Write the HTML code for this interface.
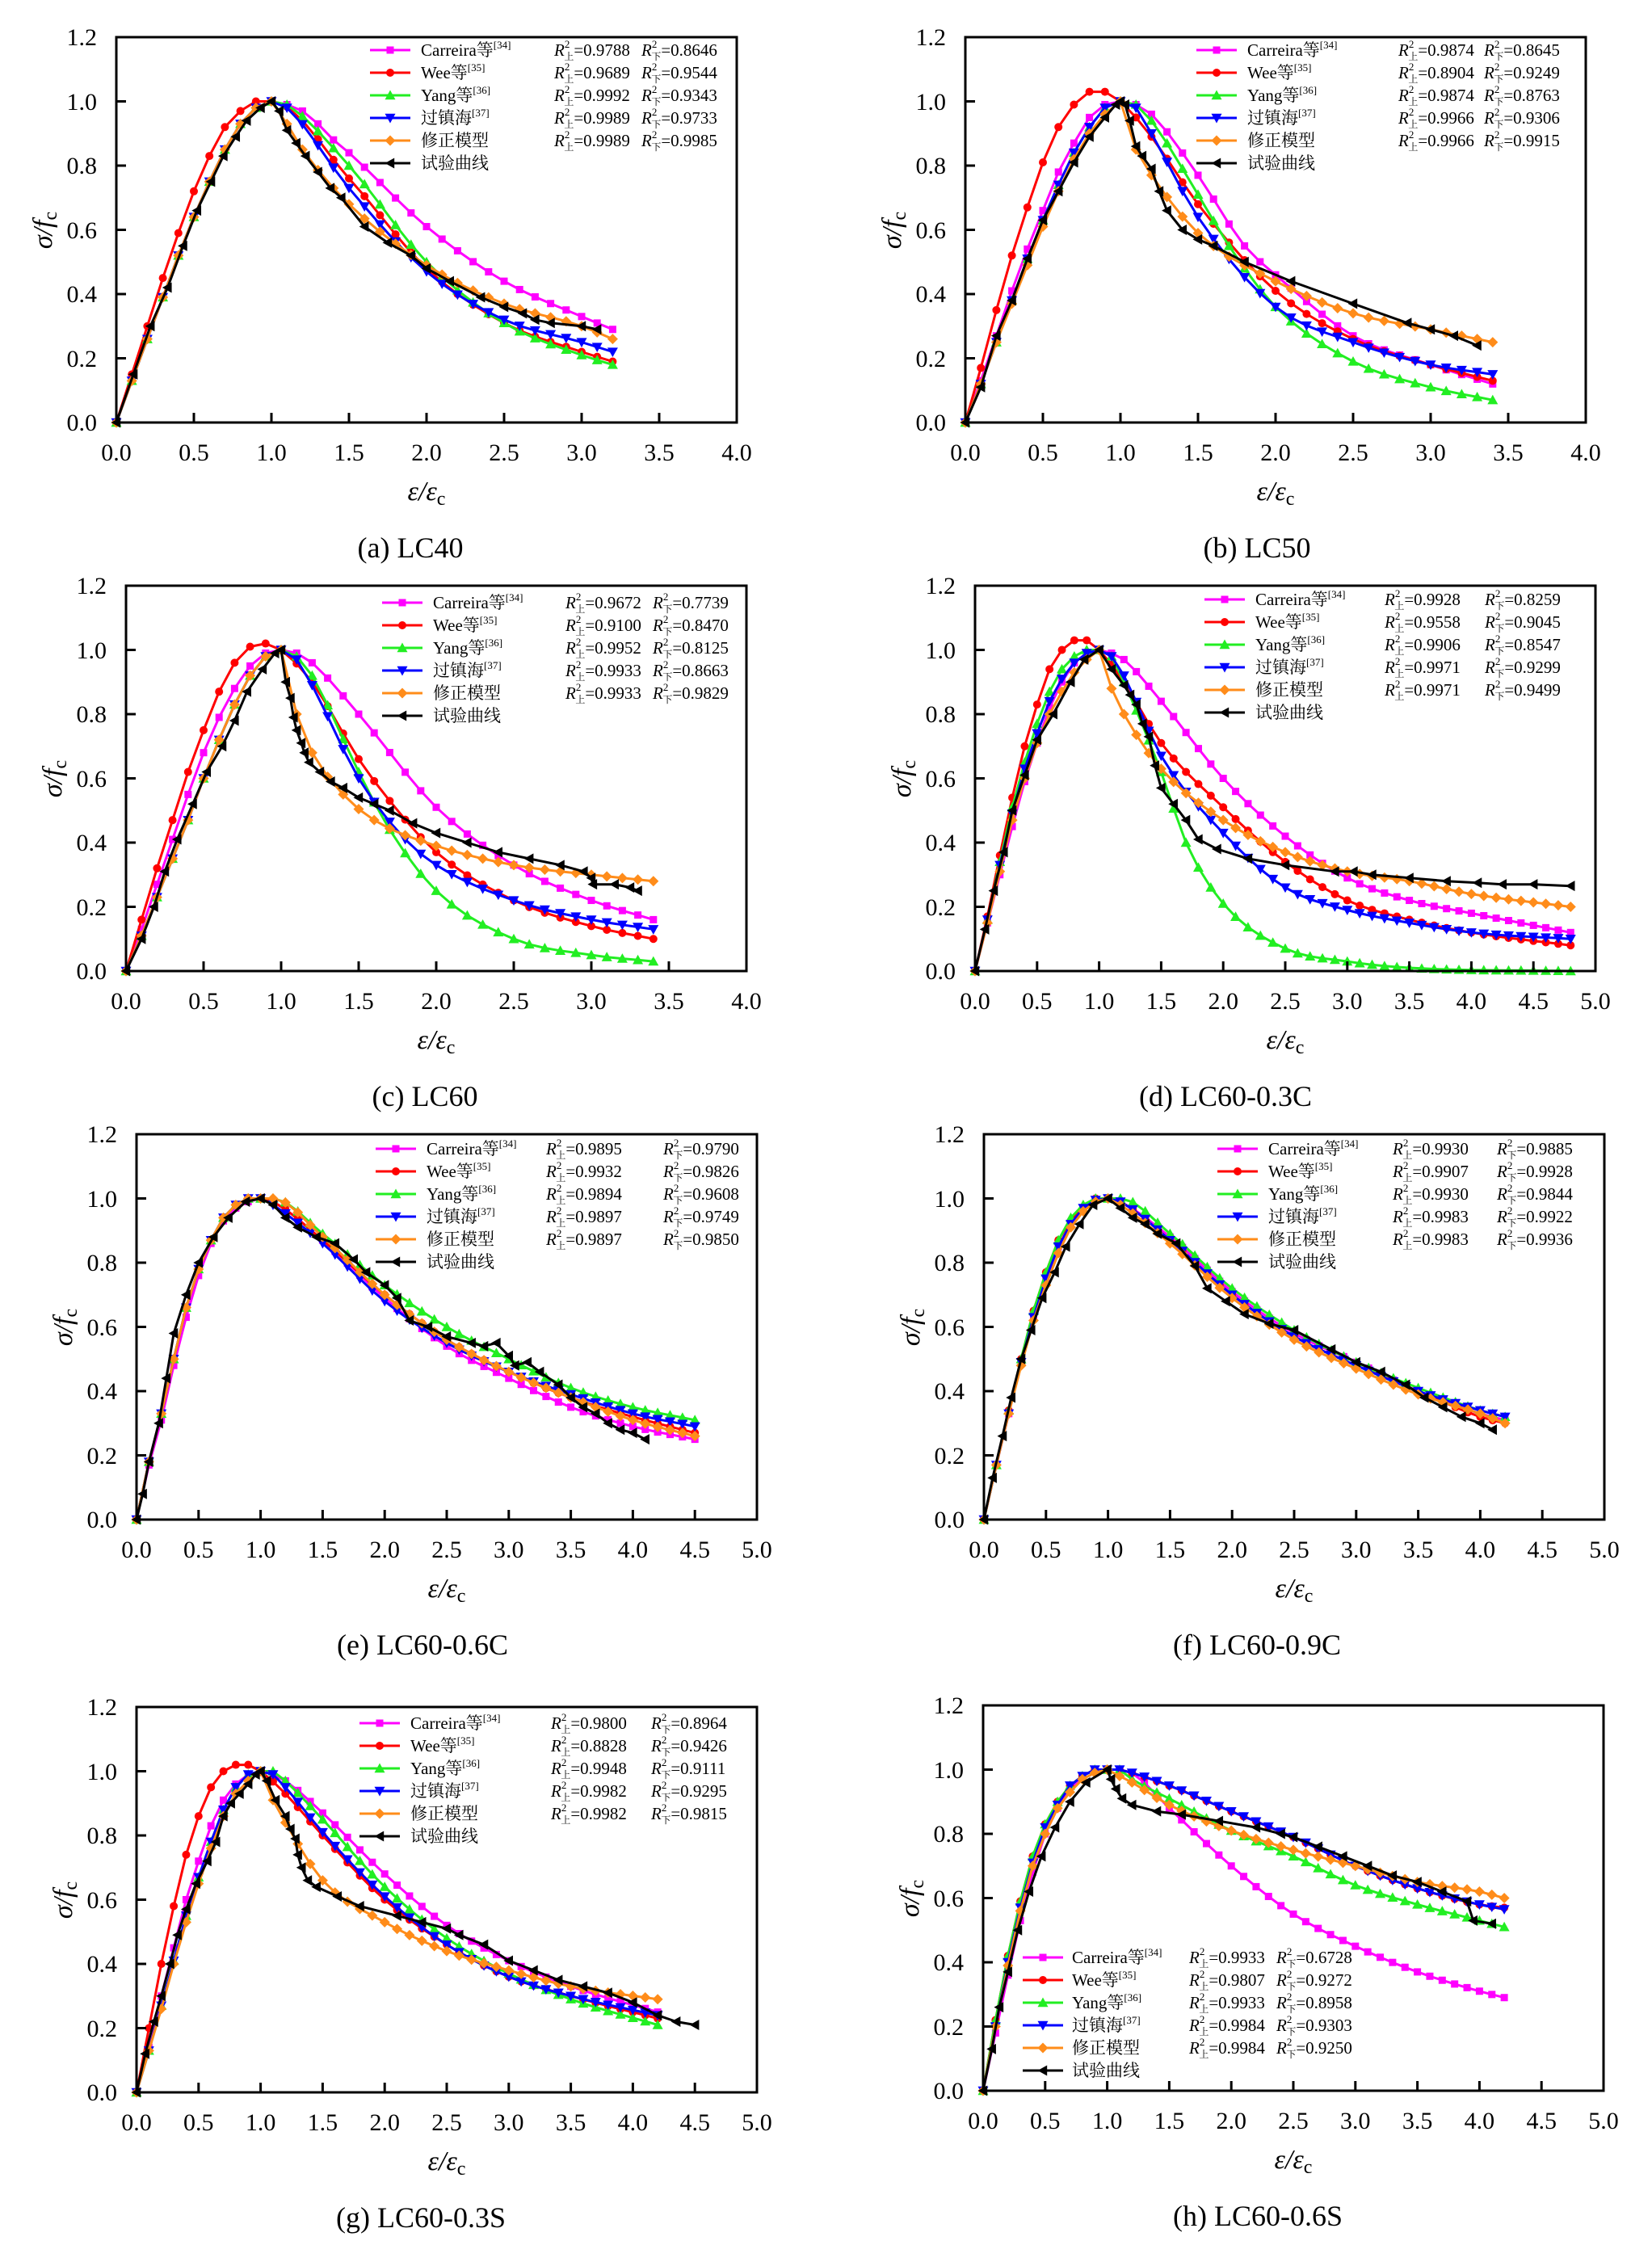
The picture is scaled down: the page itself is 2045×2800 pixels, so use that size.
<!DOCTYPE html>
<html><head><meta charset="utf-8">
<style>
html,body{margin:0;padding:0;background:#fff;}
svg{display:block;font-family:"Liberation Serif","Noto Serif CJK SC",serif;}
.t{font-size:30px;}
.lg{font-size:21px;}
.cap{font-size:36px;}
.ax{font-size:34px;font-style:italic;}
</style></head>
<body>
<svg id="s" width="2045" height="2800" viewBox="0 0 2045 2800" xmlns="http://www.w3.org/2000/svg">
<rect width="2045" height="2800" fill="#fff"/>
<g id="curves"></g>

<!-- panel a -->
<g transform="translate(144,523)">
<g class="t" text-anchor="end"><text x="-24" y="10">0.0</text><text x="-24" y="-69">0.2</text><text x="-24" y="-149">0.4</text><text x="-24" y="-228">0.6</text><text x="-24" y="-308">0.8</text><text x="-24" y="-387">1.0</text><text x="-24" y="-467">1.2</text></g>
<g class="t" text-anchor="middle"><text x="0" y="47">0.0</text><text x="96" y="47">0.5</text><text x="192" y="47">1.0</text><text x="288" y="47">1.5</text><text x="384" y="47">2.0</text><text x="480" y="47">2.5</text><text x="576" y="47">3.0</text><text x="672" y="47">3.5</text><text x="768" y="47">4.0</text></g>
<text class="ax" x="384" y="96" text-anchor="middle">ε/ε<tspan font-style="normal" font-size="24" dy="6">c</tspan></text>
<text class="ax" transform="translate(-80,-238) rotate(-90)" text-anchor="middle">σ/f<tspan font-style="normal" font-size="24" dy="6">c</tspan></text>
<text class="cap" x="364" y="167" text-anchor="middle">(a) LC40</text>
<g class="lg"><text x="377" y="-454">Carreira等<tspan font-size="13" dy="-9">[34]</tspan></text><text x="377" y="-426">Wee等<tspan font-size="13" dy="-9">[35]</tspan></text><text x="377" y="-398">Yang等<tspan font-size="13" dy="-9">[36]</tspan></text><text x="377" y="-370">过镇海<tspan font-size="13" dy="-9">[37]</tspan></text><text x="377" y="-342">修正模型</text><text x="377" y="-314">试验曲线</text>
<text x="542" y="-454"><tspan font-style="italic">R</tspan><tspan font-size="13" dy="-10">2</tspan><tspan font-size="12" dx="-7" dy="15">上</tspan><tspan dy="-5">=0.9788</tspan></text><text x="650" y="-454"><tspan font-style="italic">R</tspan><tspan font-size="13" dy="-10">2</tspan><tspan font-size="12" dx="-7" dy="15">下</tspan><tspan dy="-5">=0.8646</tspan></text>
<text x="542" y="-426"><tspan font-style="italic">R</tspan><tspan font-size="13" dy="-10">2</tspan><tspan font-size="12" dx="-7" dy="15">上</tspan><tspan dy="-5">=0.9689</tspan></text><text x="650" y="-426"><tspan font-style="italic">R</tspan><tspan font-size="13" dy="-10">2</tspan><tspan font-size="12" dx="-7" dy="15">下</tspan><tspan dy="-5">=0.9544</tspan></text>
<text x="542" y="-398"><tspan font-style="italic">R</tspan><tspan font-size="13" dy="-10">2</tspan><tspan font-size="12" dx="-7" dy="15">上</tspan><tspan dy="-5">=0.9992</tspan></text><text x="650" y="-398"><tspan font-style="italic">R</tspan><tspan font-size="13" dy="-10">2</tspan><tspan font-size="12" dx="-7" dy="15">下</tspan><tspan dy="-5">=0.9343</tspan></text>
<text x="542" y="-370"><tspan font-style="italic">R</tspan><tspan font-size="13" dy="-10">2</tspan><tspan font-size="12" dx="-7" dy="15">上</tspan><tspan dy="-5">=0.9989</tspan></text><text x="650" y="-370"><tspan font-style="italic">R</tspan><tspan font-size="13" dy="-10">2</tspan><tspan font-size="12" dx="-7" dy="15">下</tspan><tspan dy="-5">=0.9733</tspan></text>
<text x="542" y="-342"><tspan font-style="italic">R</tspan><tspan font-size="13" dy="-10">2</tspan><tspan font-size="12" dx="-7" dy="15">上</tspan><tspan dy="-5">=0.9989</tspan></text><text x="650" y="-342"><tspan font-style="italic">R</tspan><tspan font-size="13" dy="-10">2</tspan><tspan font-size="12" dx="-7" dy="15">下</tspan><tspan dy="-5">=0.9985</tspan></text></g>
</g>

<!-- panel b -->
<g transform="translate(1195,523)">
<g class="t" text-anchor="end"><text x="-24" y="10">0.0</text><text x="-24" y="-69">0.2</text><text x="-24" y="-149">0.4</text><text x="-24" y="-228">0.6</text><text x="-24" y="-308">0.8</text><text x="-24" y="-387">1.0</text><text x="-24" y="-467">1.2</text></g>
<g class="t" text-anchor="middle"><text x="0" y="47">0.0</text><text x="96" y="47">0.5</text><text x="192" y="47">1.0</text><text x="288" y="47">1.5</text><text x="384" y="47">2.0</text><text x="480" y="47">2.5</text><text x="576" y="47">3.0</text><text x="672" y="47">3.5</text><text x="768" y="47">4.0</text></g>
<text class="ax" x="384" y="96" text-anchor="middle">ε/ε<tspan font-style="normal" font-size="24" dy="6">c</tspan></text>
<text class="ax" transform="translate(-80,-238) rotate(-90)" text-anchor="middle">σ/f<tspan font-style="normal" font-size="24" dy="6">c</tspan></text>
<text class="cap" x="361" y="167" text-anchor="middle">(b) LC50</text>
<g class="lg"><text x="349" y="-454">Carreira等<tspan font-size="13" dy="-9">[34]</tspan></text><text x="349" y="-426">Wee等<tspan font-size="13" dy="-9">[35]</tspan></text><text x="349" y="-398">Yang等<tspan font-size="13" dy="-9">[36]</tspan></text><text x="349" y="-370">过镇海<tspan font-size="13" dy="-9">[37]</tspan></text><text x="349" y="-342">修正模型</text><text x="349" y="-314">试验曲线</text>
<text x="536" y="-454"><tspan font-style="italic">R</tspan><tspan font-size="13" dy="-10">2</tspan><tspan font-size="12" dx="-7" dy="15">上</tspan><tspan dy="-5">=0.9874</tspan></text><text x="642" y="-454"><tspan font-style="italic">R</tspan><tspan font-size="13" dy="-10">2</tspan><tspan font-size="12" dx="-7" dy="15">下</tspan><tspan dy="-5">=0.8645</tspan></text>
<text x="536" y="-426"><tspan font-style="italic">R</tspan><tspan font-size="13" dy="-10">2</tspan><tspan font-size="12" dx="-7" dy="15">上</tspan><tspan dy="-5">=0.8904</tspan></text><text x="642" y="-426"><tspan font-style="italic">R</tspan><tspan font-size="13" dy="-10">2</tspan><tspan font-size="12" dx="-7" dy="15">下</tspan><tspan dy="-5">=0.9249</tspan></text>
<text x="536" y="-398"><tspan font-style="italic">R</tspan><tspan font-size="13" dy="-10">2</tspan><tspan font-size="12" dx="-7" dy="15">上</tspan><tspan dy="-5">=0.9874</tspan></text><text x="642" y="-398"><tspan font-style="italic">R</tspan><tspan font-size="13" dy="-10">2</tspan><tspan font-size="12" dx="-7" dy="15">下</tspan><tspan dy="-5">=0.8763</tspan></text>
<text x="536" y="-370"><tspan font-style="italic">R</tspan><tspan font-size="13" dy="-10">2</tspan><tspan font-size="12" dx="-7" dy="15">上</tspan><tspan dy="-5">=0.9966</tspan></text><text x="642" y="-370"><tspan font-style="italic">R</tspan><tspan font-size="13" dy="-10">2</tspan><tspan font-size="12" dx="-7" dy="15">下</tspan><tspan dy="-5">=0.9306</tspan></text>
<text x="536" y="-342"><tspan font-style="italic">R</tspan><tspan font-size="13" dy="-10">2</tspan><tspan font-size="12" dx="-7" dy="15">上</tspan><tspan dy="-5">=0.9966</tspan></text><text x="642" y="-342"><tspan font-style="italic">R</tspan><tspan font-size="13" dy="-10">2</tspan><tspan font-size="12" dx="-7" dy="15">下</tspan><tspan dy="-5">=0.9915</tspan></text></g>
</g>

<!-- panel c -->
<g transform="translate(156,1202)">
<g class="t" text-anchor="end"><text x="-24" y="10">0.0</text><text x="-24" y="-69">0.2</text><text x="-24" y="-149">0.4</text><text x="-24" y="-228">0.6</text><text x="-24" y="-308">0.8</text><text x="-24" y="-387">1.0</text><text x="-24" y="-467">1.2</text></g>
<g class="t" text-anchor="middle"><text x="0" y="47">0.0</text><text x="96" y="47">0.5</text><text x="192" y="47">1.0</text><text x="288" y="47">1.5</text><text x="384" y="47">2.0</text><text x="480" y="47">2.5</text><text x="576" y="47">3.0</text><text x="672" y="47">3.5</text><text x="768" y="47">4.0</text></g>
<text class="ax" x="384" y="96" text-anchor="middle">ε/ε<tspan font-style="normal" font-size="24" dy="6">c</tspan></text>
<text class="ax" transform="translate(-80,-238) rotate(-90)" text-anchor="middle">σ/f<tspan font-style="normal" font-size="24" dy="6">c</tspan></text>
<text class="cap" x="370" y="167" text-anchor="middle">(c) LC60</text>
<g class="lg"><text x="380" y="-449">Carreira等<tspan font-size="13" dy="-9">[34]</tspan></text><text x="380" y="-421">Wee等<tspan font-size="13" dy="-9">[35]</tspan></text><text x="380" y="-393">Yang等<tspan font-size="13" dy="-9">[36]</tspan></text><text x="380" y="-365">过镇海<tspan font-size="13" dy="-9">[37]</tspan></text><text x="380" y="-337">修正模型</text><text x="380" y="-309">试验曲线</text>
<text x="544" y="-449"><tspan font-style="italic">R</tspan><tspan font-size="13" dy="-10">2</tspan><tspan font-size="12" dx="-7" dy="15">上</tspan><tspan dy="-5">=0.9672</tspan></text><text x="652" y="-449"><tspan font-style="italic">R</tspan><tspan font-size="13" dy="-10">2</tspan><tspan font-size="12" dx="-7" dy="15">下</tspan><tspan dy="-5">=0.7739</tspan></text>
<text x="544" y="-421"><tspan font-style="italic">R</tspan><tspan font-size="13" dy="-10">2</tspan><tspan font-size="12" dx="-7" dy="15">上</tspan><tspan dy="-5">=0.9100</tspan></text><text x="652" y="-421"><tspan font-style="italic">R</tspan><tspan font-size="13" dy="-10">2</tspan><tspan font-size="12" dx="-7" dy="15">下</tspan><tspan dy="-5">=0.8470</tspan></text>
<text x="544" y="-393"><tspan font-style="italic">R</tspan><tspan font-size="13" dy="-10">2</tspan><tspan font-size="12" dx="-7" dy="15">上</tspan><tspan dy="-5">=0.9952</tspan></text><text x="652" y="-393"><tspan font-style="italic">R</tspan><tspan font-size="13" dy="-10">2</tspan><tspan font-size="12" dx="-7" dy="15">下</tspan><tspan dy="-5">=0.8125</tspan></text>
<text x="544" y="-365"><tspan font-style="italic">R</tspan><tspan font-size="13" dy="-10">2</tspan><tspan font-size="12" dx="-7" dy="15">上</tspan><tspan dy="-5">=0.9933</tspan></text><text x="652" y="-365"><tspan font-style="italic">R</tspan><tspan font-size="13" dy="-10">2</tspan><tspan font-size="12" dx="-7" dy="15">下</tspan><tspan dy="-5">=0.8663</tspan></text>
<text x="544" y="-337"><tspan font-style="italic">R</tspan><tspan font-size="13" dy="-10">2</tspan><tspan font-size="12" dx="-7" dy="15">上</tspan><tspan dy="-5">=0.9933</tspan></text><text x="652" y="-337"><tspan font-style="italic">R</tspan><tspan font-size="13" dy="-10">2</tspan><tspan font-size="12" dx="-7" dy="15">下</tspan><tspan dy="-5">=0.9829</tspan></text></g>
</g>

<!-- panel d -->
<g transform="translate(1207,1202)">
<g class="t" text-anchor="end"><text x="-24" y="10">0.0</text><text x="-24" y="-69">0.2</text><text x="-24" y="-149">0.4</text><text x="-24" y="-228">0.6</text><text x="-24" y="-308">0.8</text><text x="-24" y="-387">1.0</text><text x="-24" y="-467">1.2</text></g>
<g class="t" text-anchor="middle"><text x="0" y="47">0.0</text><text x="76.8" y="47">0.5</text><text x="153.6" y="47">1.0</text><text x="230.4" y="47">1.5</text><text x="307.2" y="47">2.0</text><text x="384" y="47">2.5</text><text x="460.8" y="47">3.0</text><text x="537.6" y="47">3.5</text><text x="614.4" y="47">4.0</text><text x="691.2" y="47">4.5</text><text x="768" y="47">5.0</text></g>
<text class="ax" x="384" y="96" text-anchor="middle">ε/ε<tspan font-style="normal" font-size="24" dy="6">c</tspan></text>
<text class="ax" transform="translate(-80,-238) rotate(-90)" text-anchor="middle">σ/f<tspan font-style="normal" font-size="24" dy="6">c</tspan></text>
<text class="cap" x="310" y="167" text-anchor="middle">(d) LC60-0.3C</text>
<g class="lg"><text x="347" y="-453">Carreira等<tspan font-size="13" dy="-9">[34]</tspan></text><text x="347" y="-425">Wee等<tspan font-size="13" dy="-9">[35]</tspan></text><text x="347" y="-397">Yang等<tspan font-size="13" dy="-9">[36]</tspan></text><text x="347" y="-369">过镇海<tspan font-size="13" dy="-9">[37]</tspan></text><text x="347" y="-341">修正模型</text><text x="347" y="-313">试验曲线</text>
<text x="507" y="-453"><tspan font-style="italic">R</tspan><tspan font-size="13" dy="-10">2</tspan><tspan font-size="12" dx="-7" dy="15">上</tspan><tspan dy="-5">=0.9928</tspan></text><text x="631" y="-453"><tspan font-style="italic">R</tspan><tspan font-size="13" dy="-10">2</tspan><tspan font-size="12" dx="-7" dy="15">下</tspan><tspan dy="-5">=0.8259</tspan></text>
<text x="507" y="-425"><tspan font-style="italic">R</tspan><tspan font-size="13" dy="-10">2</tspan><tspan font-size="12" dx="-7" dy="15">上</tspan><tspan dy="-5">=0.9558</tspan></text><text x="631" y="-425"><tspan font-style="italic">R</tspan><tspan font-size="13" dy="-10">2</tspan><tspan font-size="12" dx="-7" dy="15">下</tspan><tspan dy="-5">=0.9045</tspan></text>
<text x="507" y="-397"><tspan font-style="italic">R</tspan><tspan font-size="13" dy="-10">2</tspan><tspan font-size="12" dx="-7" dy="15">上</tspan><tspan dy="-5">=0.9906</tspan></text><text x="631" y="-397"><tspan font-style="italic">R</tspan><tspan font-size="13" dy="-10">2</tspan><tspan font-size="12" dx="-7" dy="15">下</tspan><tspan dy="-5">=0.8547</tspan></text>
<text x="507" y="-369"><tspan font-style="italic">R</tspan><tspan font-size="13" dy="-10">2</tspan><tspan font-size="12" dx="-7" dy="15">上</tspan><tspan dy="-5">=0.9971</tspan></text><text x="631" y="-369"><tspan font-style="italic">R</tspan><tspan font-size="13" dy="-10">2</tspan><tspan font-size="12" dx="-7" dy="15">下</tspan><tspan dy="-5">=0.9299</tspan></text>
<text x="507" y="-341"><tspan font-style="italic">R</tspan><tspan font-size="13" dy="-10">2</tspan><tspan font-size="12" dx="-7" dy="15">上</tspan><tspan dy="-5">=0.9971</tspan></text><text x="631" y="-341"><tspan font-style="italic">R</tspan><tspan font-size="13" dy="-10">2</tspan><tspan font-size="12" dx="-7" dy="15">下</tspan><tspan dy="-5">=0.9499</tspan></text></g>
</g>

<!-- panel e -->
<g transform="translate(169,1881)">
<g class="t" text-anchor="end"><text x="-24" y="10">0.0</text><text x="-24" y="-69">0.2</text><text x="-24" y="-149">0.4</text><text x="-24" y="-228">0.6</text><text x="-24" y="-308">0.8</text><text x="-24" y="-387">1.0</text><text x="-24" y="-467">1.2</text></g>
<g class="t" text-anchor="middle"><text x="0" y="47">0.0</text><text x="76.8" y="47">0.5</text><text x="153.6" y="47">1.0</text><text x="230.4" y="47">1.5</text><text x="307.2" y="47">2.0</text><text x="384" y="47">2.5</text><text x="460.8" y="47">3.0</text><text x="537.6" y="47">3.5</text><text x="614.4" y="47">4.0</text><text x="691.2" y="47">4.5</text><text x="768" y="47">5.0</text></g>
<text class="ax" x="384" y="96" text-anchor="middle">ε/ε<tspan font-style="normal" font-size="24" dy="6">c</tspan></text>
<text class="ax" transform="translate(-80,-238) rotate(-90)" text-anchor="middle">σ/f<tspan font-style="normal" font-size="24" dy="6">c</tspan></text>
<text class="cap" x="354" y="167" text-anchor="middle">(e) LC60-0.6C</text>
<g class="lg"><text x="359" y="-452">Carreira等<tspan font-size="13" dy="-9">[34]</tspan></text><text x="359" y="-424">Wee等<tspan font-size="13" dy="-9">[35]</tspan></text><text x="359" y="-396">Yang等<tspan font-size="13" dy="-9">[36]</tspan></text><text x="359" y="-368">过镇海<tspan font-size="13" dy="-9">[37]</tspan></text><text x="359" y="-340">修正模型</text><text x="359" y="-312">试验曲线</text>
<text x="507" y="-452"><tspan font-style="italic">R</tspan><tspan font-size="13" dy="-10">2</tspan><tspan font-size="12" dx="-7" dy="15">上</tspan><tspan dy="-5">=0.9895</tspan></text><text x="652" y="-452"><tspan font-style="italic">R</tspan><tspan font-size="13" dy="-10">2</tspan><tspan font-size="12" dx="-7" dy="15">下</tspan><tspan dy="-5">=0.9790</tspan></text>
<text x="507" y="-424"><tspan font-style="italic">R</tspan><tspan font-size="13" dy="-10">2</tspan><tspan font-size="12" dx="-7" dy="15">上</tspan><tspan dy="-5">=0.9932</tspan></text><text x="652" y="-424"><tspan font-style="italic">R</tspan><tspan font-size="13" dy="-10">2</tspan><tspan font-size="12" dx="-7" dy="15">下</tspan><tspan dy="-5">=0.9826</tspan></text>
<text x="507" y="-396"><tspan font-style="italic">R</tspan><tspan font-size="13" dy="-10">2</tspan><tspan font-size="12" dx="-7" dy="15">上</tspan><tspan dy="-5">=0.9894</tspan></text><text x="652" y="-396"><tspan font-style="italic">R</tspan><tspan font-size="13" dy="-10">2</tspan><tspan font-size="12" dx="-7" dy="15">下</tspan><tspan dy="-5">=0.9608</tspan></text>
<text x="507" y="-368"><tspan font-style="italic">R</tspan><tspan font-size="13" dy="-10">2</tspan><tspan font-size="12" dx="-7" dy="15">上</tspan><tspan dy="-5">=0.9897</tspan></text><text x="652" y="-368"><tspan font-style="italic">R</tspan><tspan font-size="13" dy="-10">2</tspan><tspan font-size="12" dx="-7" dy="15">下</tspan><tspan dy="-5">=0.9749</tspan></text>
<text x="507" y="-340"><tspan font-style="italic">R</tspan><tspan font-size="13" dy="-10">2</tspan><tspan font-size="12" dx="-7" dy="15">上</tspan><tspan dy="-5">=0.9897</tspan></text><text x="652" y="-340"><tspan font-style="italic">R</tspan><tspan font-size="13" dy="-10">2</tspan><tspan font-size="12" dx="-7" dy="15">下</tspan><tspan dy="-5">=0.9850</tspan></text></g>
</g>

<!-- panel f -->
<g transform="translate(1218,1881)">
<g class="t" text-anchor="end"><text x="-24" y="10">0.0</text><text x="-24" y="-69">0.2</text><text x="-24" y="-149">0.4</text><text x="-24" y="-228">0.6</text><text x="-24" y="-308">0.8</text><text x="-24" y="-387">1.0</text><text x="-24" y="-467">1.2</text></g>
<g class="t" text-anchor="middle"><text x="0" y="47">0.0</text><text x="76.8" y="47">0.5</text><text x="153.6" y="47">1.0</text><text x="230.4" y="47">1.5</text><text x="307.2" y="47">2.0</text><text x="384" y="47">2.5</text><text x="460.8" y="47">3.0</text><text x="537.6" y="47">3.5</text><text x="614.4" y="47">4.0</text><text x="691.2" y="47">4.5</text><text x="768" y="47">5.0</text></g>
<text class="ax" x="384" y="96" text-anchor="middle">ε/ε<tspan font-style="normal" font-size="24" dy="6">c</tspan></text>
<text class="ax" transform="translate(-80,-238) rotate(-90)" text-anchor="middle">σ/f<tspan font-style="normal" font-size="24" dy="6">c</tspan></text>
<text class="cap" x="338" y="167" text-anchor="middle">(f) LC60-0.9C</text>
<g class="lg"><text x="352" y="-452">Carreira等<tspan font-size="13" dy="-9">[34]</tspan></text><text x="352" y="-424">Wee等<tspan font-size="13" dy="-9">[35]</tspan></text><text x="352" y="-396">Yang等<tspan font-size="13" dy="-9">[36]</tspan></text><text x="352" y="-368">过镇海<tspan font-size="13" dy="-9">[37]</tspan></text><text x="352" y="-340">修正模型</text><text x="352" y="-312">试验曲线</text>
<text x="506" y="-452"><tspan font-style="italic">R</tspan><tspan font-size="13" dy="-10">2</tspan><tspan font-size="12" dx="-7" dy="15">上</tspan><tspan dy="-5">=0.9930</tspan></text><text x="635" y="-452"><tspan font-style="italic">R</tspan><tspan font-size="13" dy="-10">2</tspan><tspan font-size="12" dx="-7" dy="15">下</tspan><tspan dy="-5">=0.9885</tspan></text>
<text x="506" y="-424"><tspan font-style="italic">R</tspan><tspan font-size="13" dy="-10">2</tspan><tspan font-size="12" dx="-7" dy="15">上</tspan><tspan dy="-5">=0.9907</tspan></text><text x="635" y="-424"><tspan font-style="italic">R</tspan><tspan font-size="13" dy="-10">2</tspan><tspan font-size="12" dx="-7" dy="15">下</tspan><tspan dy="-5">=0.9928</tspan></text>
<text x="506" y="-396"><tspan font-style="italic">R</tspan><tspan font-size="13" dy="-10">2</tspan><tspan font-size="12" dx="-7" dy="15">上</tspan><tspan dy="-5">=0.9930</tspan></text><text x="635" y="-396"><tspan font-style="italic">R</tspan><tspan font-size="13" dy="-10">2</tspan><tspan font-size="12" dx="-7" dy="15">下</tspan><tspan dy="-5">=0.9844</tspan></text>
<text x="506" y="-368"><tspan font-style="italic">R</tspan><tspan font-size="13" dy="-10">2</tspan><tspan font-size="12" dx="-7" dy="15">上</tspan><tspan dy="-5">=0.9983</tspan></text><text x="635" y="-368"><tspan font-style="italic">R</tspan><tspan font-size="13" dy="-10">2</tspan><tspan font-size="12" dx="-7" dy="15">下</tspan><tspan dy="-5">=0.9922</tspan></text>
<text x="506" y="-340"><tspan font-style="italic">R</tspan><tspan font-size="13" dy="-10">2</tspan><tspan font-size="12" dx="-7" dy="15">上</tspan><tspan dy="-5">=0.9983</tspan></text><text x="635" y="-340"><tspan font-style="italic">R</tspan><tspan font-size="13" dy="-10">2</tspan><tspan font-size="12" dx="-7" dy="15">下</tspan><tspan dy="-5">=0.9936</tspan></text></g>
</g>

<!-- panel g -->
<g transform="translate(169,2590)">
<g class="t" text-anchor="end"><text x="-24" y="10">0.0</text><text x="-24" y="-69">0.2</text><text x="-24" y="-149">0.4</text><text x="-24" y="-228">0.6</text><text x="-24" y="-308">0.8</text><text x="-24" y="-387">1.0</text><text x="-24" y="-467">1.2</text></g>
<g class="t" text-anchor="middle"><text x="0" y="47">0.0</text><text x="76.8" y="47">0.5</text><text x="153.6" y="47">1.0</text><text x="230.4" y="47">1.5</text><text x="307.2" y="47">2.0</text><text x="384" y="47">2.5</text><text x="460.8" y="47">3.0</text><text x="537.6" y="47">3.5</text><text x="614.4" y="47">4.0</text><text x="691.2" y="47">4.5</text><text x="768" y="47">5.0</text></g>
<text class="ax" x="384" y="96" text-anchor="middle">ε/ε<tspan font-style="normal" font-size="24" dy="6">c</tspan></text>
<text class="ax" transform="translate(-80,-238) rotate(-90)" text-anchor="middle">σ/f<tspan font-style="normal" font-size="24" dy="6">c</tspan></text>
<text class="cap" x="352" y="167" text-anchor="middle">(g) LC60-0.3S</text>
<g class="lg"><text x="339" y="-450">Carreira等<tspan font-size="13" dy="-9">[34]</tspan></text><text x="339" y="-422">Wee等<tspan font-size="13" dy="-9">[35]</tspan></text><text x="339" y="-394">Yang等<tspan font-size="13" dy="-9">[36]</tspan></text><text x="339" y="-366">过镇海<tspan font-size="13" dy="-9">[37]</tspan></text><text x="339" y="-338">修正模型</text><text x="339" y="-310">试验曲线</text>
<text x="513" y="-450"><tspan font-style="italic">R</tspan><tspan font-size="13" dy="-10">2</tspan><tspan font-size="12" dx="-7" dy="15">上</tspan><tspan dy="-5">=0.9800</tspan></text><text x="637" y="-450"><tspan font-style="italic">R</tspan><tspan font-size="13" dy="-10">2</tspan><tspan font-size="12" dx="-7" dy="15">下</tspan><tspan dy="-5">=0.8964</tspan></text>
<text x="513" y="-422"><tspan font-style="italic">R</tspan><tspan font-size="13" dy="-10">2</tspan><tspan font-size="12" dx="-7" dy="15">上</tspan><tspan dy="-5">=0.8828</tspan></text><text x="637" y="-422"><tspan font-style="italic">R</tspan><tspan font-size="13" dy="-10">2</tspan><tspan font-size="12" dx="-7" dy="15">下</tspan><tspan dy="-5">=0.9426</tspan></text>
<text x="513" y="-394"><tspan font-style="italic">R</tspan><tspan font-size="13" dy="-10">2</tspan><tspan font-size="12" dx="-7" dy="15">上</tspan><tspan dy="-5">=0.9948</tspan></text><text x="637" y="-394"><tspan font-style="italic">R</tspan><tspan font-size="13" dy="-10">2</tspan><tspan font-size="12" dx="-7" dy="15">下</tspan><tspan dy="-5">=0.9111</tspan></text>
<text x="513" y="-366"><tspan font-style="italic">R</tspan><tspan font-size="13" dy="-10">2</tspan><tspan font-size="12" dx="-7" dy="15">上</tspan><tspan dy="-5">=0.9982</tspan></text><text x="637" y="-366"><tspan font-style="italic">R</tspan><tspan font-size="13" dy="-10">2</tspan><tspan font-size="12" dx="-7" dy="15">下</tspan><tspan dy="-5">=0.9295</tspan></text>
<text x="513" y="-338"><tspan font-style="italic">R</tspan><tspan font-size="13" dy="-10">2</tspan><tspan font-size="12" dx="-7" dy="15">上</tspan><tspan dy="-5">=0.9982</tspan></text><text x="637" y="-338"><tspan font-style="italic">R</tspan><tspan font-size="13" dy="-10">2</tspan><tspan font-size="12" dx="-7" dy="15">下</tspan><tspan dy="-5">=0.9815</tspan></text></g>
</g>

<!-- panel h -->
<g transform="translate(1217,2588)">
<g class="t" text-anchor="end"><text x="-24" y="10">0.0</text><text x="-24" y="-69">0.2</text><text x="-24" y="-149">0.4</text><text x="-24" y="-228">0.6</text><text x="-24" y="-308">0.8</text><text x="-24" y="-387">1.0</text><text x="-24" y="-467">1.2</text></g>
<g class="t" text-anchor="middle"><text x="0" y="47">0.0</text><text x="76.8" y="47">0.5</text><text x="153.6" y="47">1.0</text><text x="230.4" y="47">1.5</text><text x="307.2" y="47">2.0</text><text x="384" y="47">2.5</text><text x="460.8" y="47">3.0</text><text x="537.6" y="47">3.5</text><text x="614.4" y="47">4.0</text><text x="691.2" y="47">4.5</text><text x="768" y="47">5.0</text></g>
<text class="ax" x="384" y="96" text-anchor="middle">ε/ε<tspan font-style="normal" font-size="24" dy="6">c</tspan></text>
<text class="ax" transform="translate(-80,-238) rotate(-90)" text-anchor="middle">σ/f<tspan font-style="normal" font-size="24" dy="6">c</tspan></text>
<text class="cap" x="340" y="167" text-anchor="middle">(h) LC60-0.6S</text>
<g class="lg"><text x="110" y="-158">Carreira等<tspan font-size="13" dy="-9">[34]</tspan></text><text x="110" y="-130">Wee等<tspan font-size="13" dy="-9">[35]</tspan></text><text x="110" y="-102">Yang等<tspan font-size="13" dy="-9">[36]</tspan></text><text x="110" y="-74">过镇海<tspan font-size="13" dy="-9">[37]</tspan></text><text x="110" y="-46">修正模型</text><text x="110" y="-18">试验曲线</text>
<text x="255" y="-158"><tspan font-style="italic">R</tspan><tspan font-size="13" dy="-10">2</tspan><tspan font-size="12" dx="-7" dy="15">上</tspan><tspan dy="-5">=0.9933</tspan></text><text x="363" y="-158"><tspan font-style="italic">R</tspan><tspan font-size="13" dy="-10">2</tspan><tspan font-size="12" dx="-7" dy="15">下</tspan><tspan dy="-5">=0.6728</tspan></text>
<text x="255" y="-130"><tspan font-style="italic">R</tspan><tspan font-size="13" dy="-10">2</tspan><tspan font-size="12" dx="-7" dy="15">上</tspan><tspan dy="-5">=0.9807</tspan></text><text x="363" y="-130"><tspan font-style="italic">R</tspan><tspan font-size="13" dy="-10">2</tspan><tspan font-size="12" dx="-7" dy="15">下</tspan><tspan dy="-5">=0.9272</tspan></text>
<text x="255" y="-102"><tspan font-style="italic">R</tspan><tspan font-size="13" dy="-10">2</tspan><tspan font-size="12" dx="-7" dy="15">上</tspan><tspan dy="-5">=0.9933</tspan></text><text x="363" y="-102"><tspan font-style="italic">R</tspan><tspan font-size="13" dy="-10">2</tspan><tspan font-size="12" dx="-7" dy="15">下</tspan><tspan dy="-5">=0.8958</tspan></text>
<text x="255" y="-74"><tspan font-style="italic">R</tspan><tspan font-size="13" dy="-10">2</tspan><tspan font-size="12" dx="-7" dy="15">上</tspan><tspan dy="-5">=0.9984</tspan></text><text x="363" y="-74"><tspan font-style="italic">R</tspan><tspan font-size="13" dy="-10">2</tspan><tspan font-size="12" dx="-7" dy="15">下</tspan><tspan dy="-5">=0.9303</tspan></text>
<text x="255" y="-46"><tspan font-style="italic">R</tspan><tspan font-size="13" dy="-10">2</tspan><tspan font-size="12" dx="-7" dy="15">上</tspan><tspan dy="-5">=0.9984</tspan></text><text x="363" y="-46"><tspan font-style="italic">R</tspan><tspan font-size="13" dy="-10">2</tspan><tspan font-size="12" dx="-7" dy="15">下</tspan><tspan dy="-5">=0.9250</tspan></text></g>
</g>
</svg>
<script>
(function(){
var NS="http://www.w3.org/2000/svg",root=document.getElementById("curves");
var W=768,H=477;
var COL={m:"#ff00ff",r:"#ff0000",g:"#22ee22",b:"#0000ff",o:"#ff8c1a",k:"#000000"};
var MK={m:"sq",r:"ci",g:"tu",b:"td",o:"di",k:"tl"};
function el(n,a,p){var e=document.createElementNS(NS,n);for(var k in a)e.setAttribute(k,a[k]);p.appendChild(e);return e;}
function marker(t,x,y,c,p){
 if(t=="sq")el("rect",{x:x-4.5,y:y-4.5,width:9,height:9,fill:c},p);
 else if(t=="ci")el("circle",{cx:x,cy:y,r:5,fill:c},p);
 else{var s=6.5,pts;
  if(t=="tu")pts=[x,y-s,x+s,y+s*0.8,x-s,y+s*0.8];
  else if(t=="td")pts=[x,y+s,x+s,y-s*0.8,x-s,y-s*0.8];
  else if(t=="di")pts=[x,y-s,x+s,y,x,y+s,x-s,y];
  else pts=[x-s,y,x+s*0.8,y-s,x+s*0.8,y+s];
  el("polygon",{points:pts.join(","),fill:c},p);}
}
function mono(P,xs){ // monotone cubic interpolation
 var n=P.length,d=[],m=[];
 for(var i=0;i<n-1;i++)d.push((P[i+1][1]-P[i][1])/(P[i+1][0]-P[i][0]));
 m[0]=d[0];m[n-1]=d[n-2];
 for(i=1;i<n-1;i++){m[i]=(d[i-1]*d[i]<=0)?0:(d[i-1]+d[i])/2;}
 for(i=0;i<n-1;i++){if(d[i]==0){m[i]=0;m[i+1]=0;continue;}var a=m[i]/d[i],b=m[i+1]/d[i],h=a*a+b*b;if(h>9){var t=3/Math.sqrt(h);m[i]=t*a*d[i];m[i+1]=t*b*d[i];}}
 return xs.map(function(x){var j=0;while(j<n-2&&x>P[j+1][0])j++;
  var h=P[j+1][0]-P[j][0],t=(x-P[j][0])/h,t2=t*t,t3=t2*t;
  return [x,(2*t3-3*t2+1)*P[j][1]+(t3-2*t2+t)*h*m[j]+(-2*t3+3*t2)*P[j+1][1]+(t3-t2)*h*m[j+1]];});
}
function ascPts(a){var r=[];for(var i=0;i<a.length;i++)r.push([i/10,a[i]]);return r;}
var panels=[
{L:144,B:523,xm:4,lg:[314,-461],
 base:[0,.13,.26,.39,.52,.64,.75,.85,.93,.98,1],
 S:{m:[null,[[1.1,.99],[1.2,.97],[1.3,.93],[1.4,.88],[1.5,.84],[2,.61],[2.5,.44],[3,.33],[3.2,.29]]],
    r:[[0,.15,.30,.45,.59,.72,.83,.92,.97,1.0,1],[[1.5,.76],[2,.48],[2.5,.31],[3,.22],[3.2,.19]]],
    g:[null,[[1.1,.99],[1.5,.80],[2,.50],[2.5,.31],[3,.21],[3.2,.18]]],
    b:[null,[[1.1,.98],[1.5,.73],[2,.47],[2.5,.32],[3,.25],[3.2,.22]]],
    o:[null,[[1.1,.93],[1.2,.85],[1.5,.68],[2,.49],[2.5,.37],[3,.30],[3.2,.26]]]},
 K:[[0,0],[.11,.15],[.22,.30],[.33,.42],[.43,.55],[.52,.66],[.61,.75],[.69,.83],[.77,.89],[.84,.94],[.93,.98],[1,1],[1.05,.97],[1.1,.91],[1.16,.87],[1.22,.83],[1.3,.78],[1.38,.73],[1.45,.70],[1.6,.61],[1.75,.56],[1.9,.52],[2.0,.48],[2.15,.44],[2.35,.39],[2.5,.36],[2.62,.34],[2.7,.32],[2.8,.31],[3.0,.30],[3.1,.29]]},
{L:1195,B:523,xm:4,lg:[286,-461],
 base:[0,.12,.25,.38,.51,.63,.74,.84,.92,.98,1],
 S:{m:[[0,.13,.27,.41,.54,.66,.78,.87,.95,.99,1],[[1.1,.99],[1.2,.96],[1.5,.77],[1.8,.55],[2,.46],[2.5,.27],[3,.18],[3.4,.12]]],
    r:[[0,.17,.35,.52,.67,.81,.92,.99,1.03,1.03,1],[[1.2,.89],[1.5,.68],[2,.41],[2.5,.26],[3,.18],[3.4,.13]]],
    g:[null,[[1.1,.99],[1.2,.94],[1.5,.71],[1.7,.55],[2,.36],[2.5,.19],[3,.11],[3.4,.07]]],
    b:[null,[[1.1,.98],[1.2,.90],[1.5,.64],[2,.36],[2.5,.25],[3,.18],[3.4,.15]]],
    o:[[0,.12,.25,.37,.49,.61,.72,.82,.90,.96,1],[[1.1,.85],[1.2,.77],[1.5,.59],[2,.44],[2.5,.34],[3,.29],[3.4,.25]]]},
 K:[[0,0],[.1,.11],[.2,.27],[.3,.38],[.4,.51],[.5,.63],[.6,.72],[.7,.81],[.8,.89],[.9,.95],[.97,.99],[1,1],[1.03,.99],[1.06,.94],[1.1,.86],[1.14,.83],[1.2,.79],[1.25,.72],[1.3,.66],[1.4,.60],[1.5,.57],[1.6,.55],[1.8,.50],[2.1,.44],[2.5,.37],[2.85,.31],[3.0,.29],[3.15,.27],[3.3,.24]]},
{L:156,B:1202,xm:4,lg:[317,-456],
 base:[0,.11,.23,.35,.47,.60,.72,.83,.92,.98,1],
 S:{m:[[0,.13,.27,.41,.55,.68,.79,.88,.95,.99,1],[[1.1,.99],[1.2,.96],[1.5,.80],[2,.51],[2.5,.33],[3,.22],[3.4,.16]]],
    r:[[0,.16,.32,.47,.62,.75,.87,.96,1.01,1.02,1],[[1.2,.90],[1.5,.66],[1.7,.53],[2,.37],[2.5,.22],[3,.14],[3.4,.10]]],
    g:[null,[[1.1,.98],[1.2,.92],[1.5,.62],[1.7,.44],[2,.25],[2.5,.10],[3,.05],[3.4,.03]]],
    b:[null,[[1.1,.97],[1.2,.89],[1.5,.60],[1.8,.41],[2,.33],[2.5,.22],[3,.16],[3.4,.13]]],
    o:[null,[[1.1,.80],[1.2,.68],[1.4,.55],[1.6,.47],[2,.39],[2.5,.33],[3,.30],[3.4,.28]]]},
 K:[[0,0],[.1,.10],[.18,.20],[.25,.31],[.33,.41],[.43,.52],[.52,.62],[.62,.70],[.7,.78],[.78,.87],[.88,.94],[.96,.99],[1,1],[1.03,.90],[1.06,.85],[1.08,.79],[1.1,.75],[1.13,.71],[1.15,.68],[1.18,.65],[1.25,.62],[1.32,.59],[1.4,.57],[1.5,.54],[1.6,.52],[1.7,.50],[1.85,.46],[2.0,.43],[2.2,.40],[2.4,.37],[2.6,.35],[2.8,.33],[2.95,.31],[3.0,.29],[3.01,.27],[3.15,.27],[3.25,.26],[3.3,.25]]},
{L:1207,B:1202,xm:5,lg:[284,-460],
 base:[0,.16,.33,.49,.63,.74,.84,.91,.96,.99,1],
 S:{m:[[0,.15,.30,.45,.59,.71,.82,.90,.96,.99,1],[[1.1,.99],[1.2,.97],[1.5,.84],[2,.60],[2.5,.42],[3,.29],[3.5,.22],[4,.18],[4.8,.12]]],
    r:[[0,.17,.36,.54,.70,.83,.94,1.0,1.03,1.03,1],[[1.2,.90],[1.5,.71],[2,.51],[2.5,.34],[3,.22],[3.5,.16],[4,.12],[4.8,.08]]],
    g:[[0,.16,.34,.51,.65,.77,.87,.94,.98,1.0,1],[[1.1,.98],[1.2,.90],[1.5,.62],[1.7,.40],[2,.21],[2.5,.07],[3,.03],[3.5,.01],[4.8,0]]],
    b:[null,[[1.1,.98],[1.2,.92],[1.5,.67],[2,.43],[2.5,.26],[3,.19],[3.5,.15],[4,.12],[4.8,.10]]],
    o:[[0,.15,.31,.47,.60,.71,.80,.87,.93,.97,1],[[1.1,.88],[1.2,.80],[1.5,.63],[2,.47],[2.5,.37],[3,.31],[3.5,.28],[4,.24],[4.8,.20]]]},
 K:[[0,0],[.08,.13],[.15,.25],[.23,.37],[.3,.50],[.4,.61],[.5,.72],[.63,.80],[.77,.90],[.88,.97],[1,1],[1.1,.94],[1.2,.89],[1.25,.86],[1.3,.83],[1.35,.77],[1.4,.73],[1.45,.64],[1.5,.57],[1.6,.52],[1.7,.47],[1.8,.41],[1.95,.38],[2.2,.35],[2.5,.33],[2.9,.31],[3.05,.31],[3.2,.30],[3.5,.29],[3.8,.28],[4.05,.275],[4.25,.27],[4.5,.27],[4.8,.265]]},
{L:169,B:1881,xm:5,lg:[296,-459],
 base:[0,.18,.33,.50,.66,.78,.87,.94,.98,1.0,1],
 S:{m:[[0,.17,.31,.48,.63,.76,.86,.93,.97,.99,1],[[1.1,.99],[1.5,.87],[2,.69],[2.5,.54],[3,.44],[3.5,.35],[4,.29],[4.5,.25]]],
    r:[null,[[1.1,.99],[1.5,.87],[2,.70],[2.5,.56],[3,.46],[3.5,.38],[4,.32],[4.5,.27]]],
    g:[null,[[1.1,1.0],[1.5,.89],[2,.73],[2.5,.60],[3,.50],[3.5,.41],[4,.35],[4.5,.31]]],
    b:[null,[[1.1,.98],[1.5,.86],[2,.68],[2.5,.55],[3,.46],[3.5,.39],[4,.33],[4.5,.29]]],
    o:[null,[[1.1,1.0],[1.5,.88],[2,.70],[2.5,.56],[3,.46],[3.5,.38],[4,.31],[4.5,.26]]]},
 K:[[0,0],[.05,.08],[.1,.18],[.18,.30],[.24,.44],[.3,.58],[.4,.70],[.5,.80],[.62,.88],[.74,.94],[.88,.99],[1,1],[1.1,.98],[1.2,.94],[1.3,.91],[1.45,.88],[1.6,.86],[1.75,.81],[1.85,.77],[2.0,.73],[2.1,.69],[2.2,.62],[2.35,.60],[2.5,.57],[2.7,.55],[2.8,.54],[2.9,.55],[3.0,.51],[3.05,.48],[3.15,.49],[3.25,.46],[3.4,.42],[3.5,.38],[3.6,.35],[3.7,.33],[3.8,.30],[3.9,.28],[4.0,.27],[4.1,.25]]},
{L:1218,B:1881,xm:5,lg:[289,-459],
 base:[0,.17,.33,.49,.63,.75,.85,.92,.97,.995,1],
 S:{m:[null,[[1.1,.99],[1.5,.88],[2,.71],[2.5,.58],[3,.49],[3.5,.40],[4,.33],[4.2,.31]]],
    r:[[0,.17,.34,.50,.65,.77,.87,.93,.97,1.0,1],[[1.1,.99],[1.5,.87],[2,.70],[2.5,.57],[3,.48],[3.5,.40],[4,.32],[4.2,.30]]],
    g:[[0,.17,.34,.50,.65,.77,.87,.94,.98,1.0,1],[[1.1,1.0],[1.5,.89],[2,.72],[2.5,.59],[3,.49],[3.5,.41],[4,.34],[4.2,.32]]],
    b:[null,[[1.1,.99],[1.5,.87],[2,.70],[2.5,.57],[3,.48],[3.5,.40],[4,.34],[4.2,.32]]],
    o:[[0,.17,.33,.48,.62,.73,.83,.91,.96,.99,1],[[1.1,.98],[1.5,.86],[2,.69],[2.5,.56],[3,.47],[3.5,.39],[4,.33],[4.2,.30]]]},
 K:[[0,0],[.07,.13],[.15,.26],[.22,.38],[.3,.50],[.38,.59],[.47,.69],[.57,.77],[.66,.85],[.77,.92],[.88,.98],[1,1],[1.1,.97],[1.2,.94],[1.3,.92],[1.4,.89],[1.55,.86],[1.7,.79],[1.8,.72],[1.95,.68],[2.1,.64],[2.3,.61],[2.5,.59],[2.8,.53],[3.0,.49],[3.2,.46],[3.4,.42],[3.55,.38],[3.7,.35],[3.85,.32],[4.0,.30],[4.1,.28]]},
{L:169,B:2590,xm:5,lg:[276,-457],
 base:[0,.13,.27,.41,.55,.67,.78,.88,.95,.99,1],
 S:{m:[[0,.14,.30,.45,.60,.72,.83,.91,.96,.99,1],[[1.1,.99],[1.2,.97],[1.5,.87],[2,.68],[2.5,.52],[3,.41],[3.5,.33],[4.2,.25]]],
    r:[[0,.20,.40,.58,.74,.86,.95,1.0,1.02,1.02,1],[[1.2,.93],[1.5,.80],[2,.60],[2.5,.46],[3,.36],[3.5,.30],[4.2,.23]]],
    g:[null,[[1.1,1.0],[1.2,.97],[1.5,.85],[2,.64],[2.5,.48],[3,.37],[3.5,.29],[4.2,.21]]],
    b:[null,[[1.1,.99],[1.2,.95],[1.5,.81],[2,.61],[2.5,.46],[3,.36],[3.5,.30],[4.2,.24]]],
    o:[[0,.13,.26,.40,.53,.65,.76,.86,.93,.97,1],[[1.1,.91],[1.2,.84],[1.5,.66],[2,.53],[2.5,.44],[3,.38],[3.5,.33],[4.2,.29]]]},
 K:[[0,0],[.07,.12],[.14,.22],[.2,.30],[.27,.40],[.33,.49],[.4,.57],[.48,.65],[.57,.72],[.64,.78],[.7,.86],[.76,.90],[.83,.93],[.9,.96],[.96,.99],[1.0,1.0],[1.05,.97],[1.12,.91],[1.2,.86],[1.24,.82],[1.28,.79],[1.3,.74],[1.33,.70],[1.38,.66],[1.45,.64],[1.62,.61],[1.8,.58],[2.1,.55],[2.3,.53],[2.5,.51],[2.6,.49],[2.8,.46],[3.0,.41],[3.2,.38],[3.4,.35],[3.6,.33],[3.8,.31],[4.0,.28],[4.2,.24],[4.35,.22],[4.5,.21]]},
{L:1217,B:2588,xm:5,lg:[49,-165],
 base:[0,.22,.42,.59,.73,.83,.90,.95,.98,1.0,1],
 S:{m:[[0,.18,.36,.53,.68,.80,.88,.94,.98,1.0,1],[[1.1,1.0],[1.2,.99],[1.5,.88],[2,.70],[2.5,.55],[3,.45],[3.5,.37],[4,.31],[4.2,.29]]],
    r:[null,[[1.1,1.0],[1.2,.99],[1.5,.95],[2,.87],[2.5,.79],[3,.70],[3.5,.63],[4,.58],[4.2,.57]]],
    g:[null,[[1.1,1.0],[1.2,.97],[1.5,.91],[2,.81],[2.5,.73],[3,.64],[3.5,.58],[4,.53],[4.2,.51]]],
    b:[[0,.20,.40,.57,.71,.82,.89,.95,.98,1.0,1],[[1.1,1.0],[1.2,.99],[1.5,.95],[2,.87],[2.5,.79],[3,.70],[3.5,.63],[4,.58],[4.2,.565]]],
    o:[[0,.20,.39,.56,.70,.80,.88,.93,.97,.99,1],[[1.1,.98],[1.2,.96],[1.5,.89],[2,.81],[2.5,.75],[3,.70],[3.5,.65],[4,.62],[4.2,.60]]]},
 K:[[0,0],[.07,.13],[.13,.26],[.2,.37],[.28,.50],[.37,.62],[.47,.73],[.58,.82],[.7,.90],[.83,.96],[1,1],[1.03,.97],[1.07,.94],[1.12,.91],[1.2,.89],[1.4,.87],[1.6,.86],[1.9,.84],[2.2,.82],[2.4,.80],[2.5,.79],[2.7,.76],[2.9,.73],[3.1,.70],[3.3,.67],[3.5,.65],[3.7,.62],[3.9,.59],[3.95,.53],[4.1,.52]]}
];
var order=["m","r","g","b","o"];
panels.forEach(function(p){
 var g=el("g",{transform:"translate("+p.L+","+p.B+")"},root);
 var sx=W/p.xm,sy=H/1.2;
 function px(d){return [d[0]*sx,-d[1]*sy];}
 order.forEach(function(k){
  var sp=p.S[k],asc=sp[0]||p.base,ctrl=ascPts(asc).concat(sp[1]);
  var xe=ctrl[ctrl.length-1][0],xs=[];
  for(var x=0;x<=xe+1e-6;x+=0.1)xs.push(Math.round(x*100)/100);
  if(xs[xs.length-1]<xe-1e-6)xs.push(xe);
  var pts=mono(ctrl,xs).map(px);
  el("polyline",{points:pts.map(function(q){return q[0].toFixed(1)+","+q[1].toFixed(1);}).join(" "),fill:"none",stroke:COL[k],"stroke-width":3,"stroke-linejoin":"round"},g);
  pts.forEach(function(q){marker(MK[k],q[0],q[1],COL[k],g);});
 });
 var kp=p.K.map(px);
 el("polyline",{points:kp.map(function(q){return q[0].toFixed(1)+","+q[1].toFixed(1);}).join(" "),fill:"none",stroke:"#000","stroke-width":3,"stroke-linejoin":"round"},g);
 kp.forEach(function(q){marker("tl",q[0],q[1],"#000",g);});
 // axes
 el("rect",{x:0,y:-H,width:W,height:H,fill:"none",stroke:"#000","stroke-width":3},g);
 for(var i=1;i<6;i++)el("line",{x1:0,x2:12,y1:-i*H/6,y2:-i*H/6,stroke:"#000","stroke-width":3},g);
 var nt=p.xm*2;
 for(i=1;i<nt;i++)el("line",{x1:i*W/nt,x2:i*W/nt,y1:0,y2:-12,stroke:"#000","stroke-width":3},g);
 // legend
 var cols=["m","r","g","b","o","k"];
 cols.forEach(function(k,j){var y=p.lg[1]+28*j,x0=p.lg[0];
  el("line",{x1:x0,x2:x0+50,y1:y,y2:y,stroke:COL[k],"stroke-width":3},g);
  marker(MK[k],x0+25,y,COL[k],g);});
});
})();
</script>
</body></html>
